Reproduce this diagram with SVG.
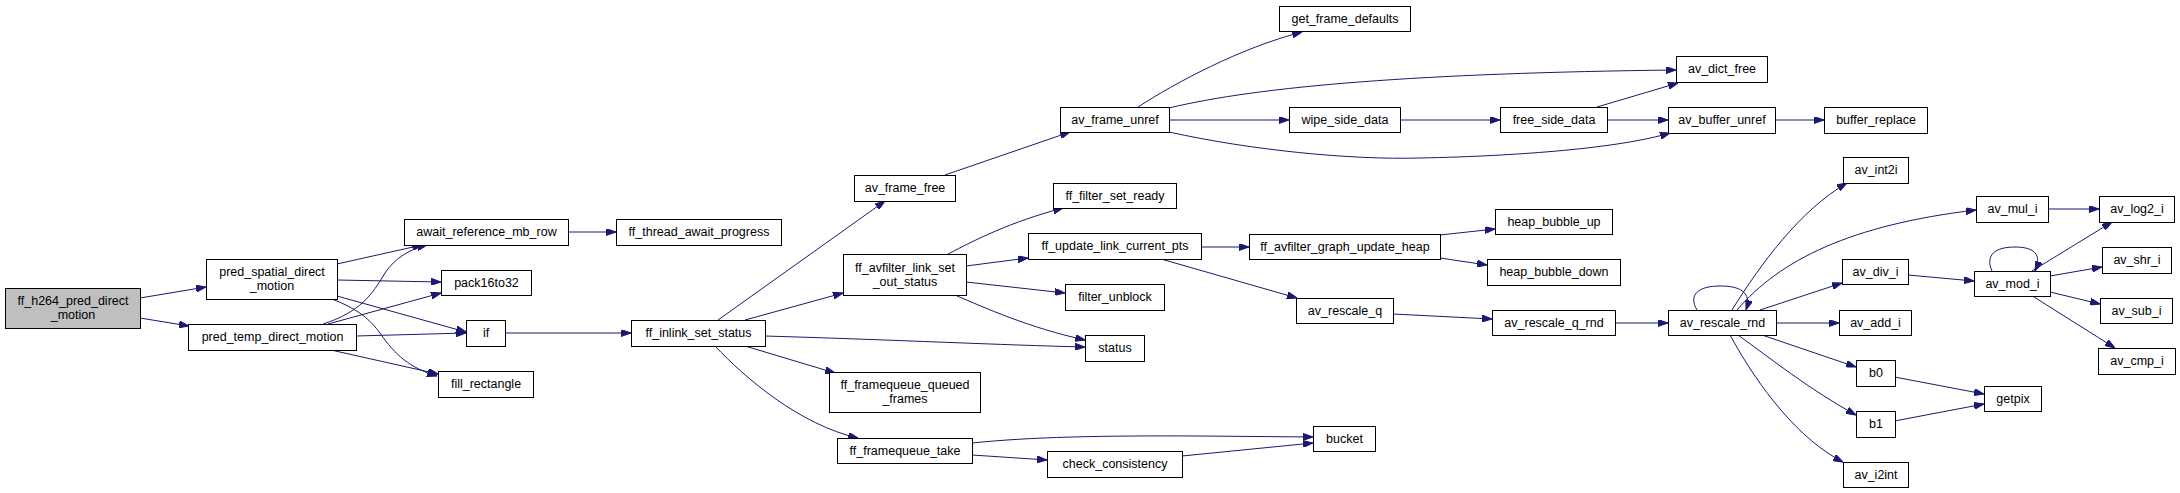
<svg xmlns="http://www.w3.org/2000/svg" width="2180" height="493" viewBox="0 0 2180 493">
<style>
.n rect{fill:#ffffff;stroke:#000000;stroke-width:1}
.n rect.g{fill:#bfbfbf}
.n text{font-family:"Liberation Sans",Arial,sans-serif;font-size:12.5px;fill:#000000;text-anchor:middle}
.e path{fill:none;stroke:#191970;stroke-width:1;marker-end:url(#a)}
</style>
<defs>
<marker id="a" viewBox="0 0 10 7" refX="10" refY="3.5" markerWidth="10" markerHeight="7" markerUnits="userSpaceOnUse" orient="auto">
<path d="M0,0 L10,3.5 L0,7 z" fill="#191970" stroke="#191970" stroke-width="1"/>
</marker>
</defs>
<rect x="0" y="0" width="2180" height="493" fill="#ffffff"/>
<g class="e" id="edges">
<path d="M140,298 L206,287"/>
<path d="M140,318 L189,326"/>
<path d="M337,264 L422,245"/>
<path d="M337,280 L441,282"/>
<path d="M337,296 L466,332"/>
<path d="M332,299 C360,310 370,320 380,333 C395,355 410,368 437,376"/>
<path d="M323,324 C360,312 372,295 385,273 C395,258 410,249 427,245"/>
<path d="M328,324 L441,293"/>
<path d="M356,336 L466,333"/>
<path d="M331,350 L438,374"/>
<path d="M568,232 L616,232"/>
<path d="M505,333 L631,333"/>
<path d="M718,320 L885,201"/>
<path d="M745,320 L843,293"/>
<path d="M765,336 C900,340 1000,345 1085,347"/>
<path d="M745,346 L835,373"/>
<path d="M715,346 C745,378 800,425 858,438"/>
<path d="M948,254 C975,240 1010,222 1063,208"/>
<path d="M966,266 L1028,258"/>
<path d="M966,282 L1065,293"/>
<path d="M955,295 C985,308 1030,328 1085,340"/>
<path d="M972,443 C1030,437 1100,435.5 1200,436 L1313,437"/>
<path d="M972,455 L1047,460"/>
<path d="M1182,456 L1313,443"/>
<path d="M945,175 L1070,132"/>
<path d="M1138,107 C1175,83 1240,48 1302,32"/>
<path d="M1169,108 C1260,86 1420,73 1676,70"/>
<path d="M1169,120 L1289,120"/>
<path d="M1169,132 C1250,150 1350,160 1420,158 C1520,156 1620,148 1670,133"/>
<path d="M1400,120 L1500,120"/>
<path d="M1597,107 L1678,83"/>
<path d="M1607,120 L1668,120"/>
<path d="M1775,120 L1824,120"/>
<path d="M1201,247 L1249,247"/>
<path d="M1161,259 L1297,298"/>
<path d="M1440,235 L1495,229"/>
<path d="M1440,258 L1487,265"/>
<path d="M1393,314 L1492,319"/>
<path d="M1615,323 L1668,323"/>
<path d="M1697,310 C1688,295 1698,286 1720,286 C1740,286 1752,292 1746,310"/>
<path d="M1732,310 C1760,265 1800,210 1847,183"/>
<path d="M1737,310 C1780,260 1850,225 1976,210"/>
<path d="M1760,310 L1842,283"/>
<path d="M1776,323 L1839,323"/>
<path d="M2048,209 L2099,209"/>
<path d="M1908,275 L1974,281"/>
<path d="M1992,271 C1985,255 1995,247 2015,247 C2035,247 2042,255 2035,271"/>
<path d="M2032,271 L2112,222"/>
<path d="M2050,276 L2102,267"/>
<path d="M2050,292 L2100,304"/>
<path d="M2034,297 L2115,348"/>
<path d="M1762,335 L1856,367"/>
<path d="M1738,335 C1770,358 1810,390 1856,415"/>
<path d="M1730,335 C1760,390 1800,440 1843,462"/>
<path d="M1894.5,377 L1984,394"/>
<path d="M1894.5,421 L1984,404"/>
</g>
<g class="n" id="n1"><rect class="g" x="5.5" y="288.5" width="135" height="40"/><text x="73" y="304.5">ff_h264_pred_direct</text><text x="73" y="318.5">_motion</text></g>
<g class="n" id="n2"><rect x="206.5" y="259.5" width="131" height="40"/><text x="272" y="275.5">pred_spatial_direct</text><text x="272" y="289.5">_motion</text></g>
<g class="n" id="n3"><rect x="188.5" y="324.5" width="168" height="26"/><text x="272.5" y="341">pred_temp_direct_motion</text></g>
<g class="n" id="n4"><rect x="404.5" y="219.5" width="164" height="26"/><text x="486.5" y="236">await_reference_mb_row</text></g>
<g class="n" id="n5"><rect x="441.5" y="270.5" width="90" height="25"/><text x="486.5" y="286.5">pack16to32</text></g>
<g class="n" id="n6"><rect x="466.5" y="320.5" width="39" height="26"/><text x="486" y="337">if</text></g>
<g class="n" id="n7"><rect x="438.5" y="371.5" width="95" height="26"/><text x="486" y="388">fill_rectangle</text></g>
<g class="n" id="n8"><rect x="616.5" y="219.5" width="165" height="26"/><text x="699" y="236">ff_thread_await_progress</text></g>
<g class="n" id="n9"><rect x="631.5" y="320.5" width="134" height="26"/><text x="698.5" y="337">ff_inlink_set_status</text></g>
<g class="n" id="n10"><rect x="854.5" y="175.5" width="101" height="26"/><text x="905" y="192">av_frame_free</text></g>
<g class="n" id="n11"><rect x="843.5" y="254.5" width="123" height="41"/><text x="905" y="271.5">ff_avfilter_link_set</text><text x="905" y="285.5">_out_status</text></g>
<g class="n" id="n12"><rect x="829.5" y="372.5" width="151" height="40"/><text x="905" y="389">ff_framequeue_queued</text><text x="905" y="403">_frames</text></g>
<g class="n" id="n13"><rect x="837.5" y="438.5" width="135" height="25"/><text x="905" y="454.5">ff_framequeue_take</text></g>
<g class="n" id="n14"><rect x="1060.5" y="107.5" width="109" height="25"/><text x="1115" y="123.5">av_frame_unref</text></g>
<g class="n" id="n15"><rect x="1053.5" y="183.5" width="123" height="25"/><text x="1115" y="199.5">ff_filter_set_ready</text></g>
<g class="n" id="n16"><rect x="1028.5" y="233.5" width="173" height="26"/><text x="1115" y="250">ff_update_link_current_pts</text></g>
<g class="n" id="n17"><rect x="1065.5" y="284.5" width="99" height="26"/><text x="1115" y="301">filter_unblock</text></g>
<g class="n" id="n18"><rect x="1085.5" y="335.5" width="59" height="26"/><text x="1115" y="352">status</text></g>
<g class="n" id="n19"><rect x="1047.5" y="451.5" width="135" height="26"/><text x="1115" y="468">check_consistency</text></g>
<g class="n" id="n20"><rect x="1279.5" y="6.5" width="131" height="25"/><text x="1345" y="22.5">get_frame_defaults</text></g>
<g class="n" id="n21"><rect x="1289.5" y="107.5" width="111" height="25"/><text x="1345" y="123.5">wipe_side_data</text></g>
<g class="n" id="n22"><rect x="1249.5" y="234.5" width="191" height="25"/><text x="1345" y="250.5">ff_avfilter_graph_update_heap</text></g>
<g class="n" id="n23"><rect x="1296.5" y="298.5" width="97" height="25"/><text x="1345" y="314.5">av_rescale_q</text></g>
<g class="n" id="n24"><rect x="1313.5" y="426.5" width="62" height="25"/><text x="1344.5" y="442.5">bucket</text></g>
<g class="n" id="n25"><rect x="1500.5" y="107.5" width="107" height="25"/><text x="1554" y="123.5">free_side_data</text></g>
<g class="n" id="n26"><rect x="1495.5" y="209.5" width="117" height="25"/><text x="1554" y="225.5">heap_bubble_up</text></g>
<g class="n" id="n27"><rect x="1487.5" y="259.5" width="133" height="26"/><text x="1554" y="276">heap_bubble_down</text></g>
<g class="n" id="n28"><rect x="1492.5" y="310.5" width="123" height="25"/><text x="1554" y="326.5">av_rescale_q_rnd</text></g>
<g class="n" id="n29"><rect x="1676.5" y="56.5" width="91" height="26"/><text x="1722" y="73">av_dict_free</text></g>
<g class="n" id="n30"><rect x="1668.5" y="107.5" width="107" height="26"/><text x="1722" y="124">av_buffer_unref</text></g>
<g class="n" id="n31"><rect x="1668.5" y="310.5" width="108" height="25"/><text x="1722.5" y="326.5">av_rescale_rnd</text></g>
<g class="n" id="n32"><rect x="1824.5" y="107.5" width="103" height="26"/><text x="1876" y="124">buffer_replace</text></g>
<g class="n" id="n33"><rect x="1843.5" y="157.5" width="65" height="26"/><text x="1876" y="174">av_int2i</text></g>
<g class="n" id="n34"><rect x="1842.5" y="259.5" width="66" height="25"/><text x="1875.5" y="275.5">av_div_i</text></g>
<g class="n" id="n35"><rect x="1839.5" y="310.5" width="72" height="25"/><text x="1875.5" y="326.5">av_add_i</text></g>
<g class="n" id="n36"><rect x="1856.5" y="360.5" width="39" height="26"/><text x="1876" y="377">b0</text></g>
<g class="n" id="n37"><rect x="1856.5" y="411.5" width="39" height="26"/><text x="1876" y="428">b1</text></g>
<g class="n" id="n38"><rect x="1843.5" y="462.5" width="65" height="25"/><text x="1876" y="478.5">av_i2int</text></g>
<g class="n" id="n39"><rect x="1976.5" y="196.5" width="72" height="26"/><text x="2012.5" y="213">av_mul_i</text></g>
<g class="n" id="n40"><rect x="1974.5" y="271.5" width="76" height="25"/><text x="2012.5" y="287.5">av_mod_i</text></g>
<g class="n" id="n41"><rect x="1984.5" y="386.5" width="57" height="25"/><text x="2013" y="402.5">getpix</text></g>
<g class="n" id="n42"><rect x="2099.5" y="196.5" width="75" height="26"/><text x="2137" y="213">av_log2_i</text></g>
<g class="n" id="n43"><rect x="2102.5" y="247.5" width="69" height="26"/><text x="2137" y="264">av_shr_i</text></g>
<g class="n" id="n44"><rect x="2100.5" y="298.5" width="72" height="25"/><text x="2136.5" y="314.5">av_sub_i</text></g>
<g class="n" id="n45"><rect x="2098.5" y="348.5" width="77" height="26"/><text x="2137" y="365">av_cmp_i</text></g>
</svg>
